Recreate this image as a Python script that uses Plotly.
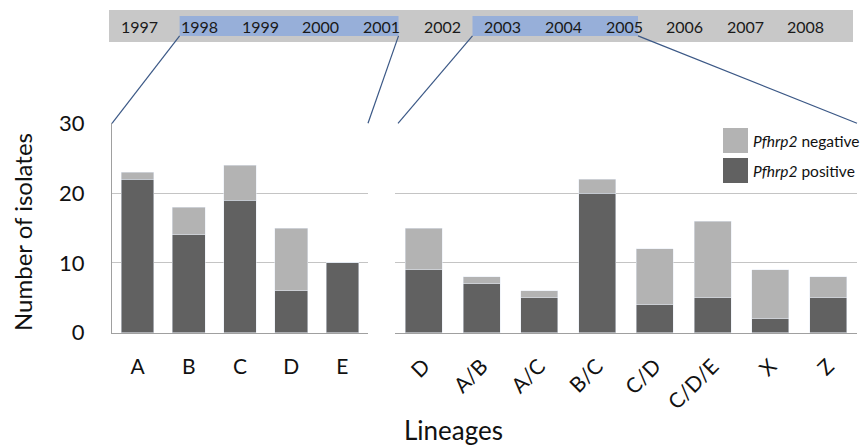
import plotly.graph_objects as go

# ---- data ----
left_lineages = ["A", "B", "C", "D", "E"]
left_positive = [22, 14, 19, 6, 10]
left_negative = [1, 4, 5, 9, 0]

right_lineages = ["D", "A/B", "A/C", "B/C", "C/D", "C/D/E", "X", "Z"]
right_positive = [9, 7, 5, 20, 4, 5, 2, 5]
right_negative = [6, 1, 1, 2, 8, 11, 7, 3]

years = [1997, 1998, 1999, 2000, 2001, 2002, 2003, 2004, 2005, 2006, 2007, 2008]
period1 = (1998, 2001)
period2 = (2003, 2005)

# ---- style ----
W, H = 864, 448
FONT = "Lato"
POS_C = "#616161"
NEG_C = "#b3b3b3"
GRID_C = "#c4c4c4"
LINE_C = "#3b5886"
period_pads = [(-0.33, 0.28), (-0.5, 0.23)]


def px(x):
    return x / W


def py(y):
    return 1 - y / H


fig = go.Figure()

fig.add_trace(go.Bar(x=left_lineages, y=left_positive, marker_color=POS_C,
                     name="Pfhrp2 positive", xaxis="x", yaxis="y"))
fig.add_trace(go.Bar(x=left_lineages, y=left_negative, marker_color=NEG_C,
                     name="Pfhrp2 negative", xaxis="x", yaxis="y"))
fig.add_trace(go.Bar(x=right_lineages, y=right_positive, marker_color=POS_C,
                     name="Pfhrp2 positive", xaxis="x2", yaxis="y2"))
fig.add_trace(go.Bar(x=right_lineages, y=right_negative, marker_color=NEG_C,
                     name="Pfhrp2 negative", xaxis="x2", yaxis="y2"))

ydom = [py(332.7), py(123.3)]
dom1 = [px(112), px(368)]
dom2 = [px(395), px(857)]
tl_x = [px(109), px(853)]
tl_y = [py(42), py(10)]
tl_range = [1996.505, 2008.776]
blue_y = (0.19, 0.81)

tickfont = dict(family=FONT, size=21, color="#111")

shapes = []
annotations = []

# timeline bar
shapes.append(dict(type="rect", xref="x3", yref="y3", x0=tl_range[0], x1=tl_range[1],
                   y0=0, y1=1, fillcolor="#c8c8c8", line=dict(width=0), layer="below"))
for (a, b), (pa, pb) in zip((period1, period2), period_pads):
    shapes.append(dict(type="rect", xref="x3", yref="y3", x0=a + pa, x1=b + pb,
                       y0=blue_y[0], y1=blue_y[1], fillcolor="#97afd9",
                       line=dict(width=0), layer="below"))
for yv in years:
    annotations.append(dict(x=yv, y=0.5, xref="x3", yref="y3", text=str(yv),
                            xanchor="center", yanchor="middle",
                            showarrow=False, font=dict(family=FONT, size=16, color="#1a1a1a")))

# connecting lines (timeline -> panels)
tl_scale = (tl_x[1] - tl_x[0]) / (tl_range[1] - tl_range[0])


def tl_px(v):
    return tl_x[0] + (v - tl_range[0]) * tl_scale


blue_bottom = tl_y[0] + (tl_y[1] - tl_y[0]) * blue_y[0]
conn = [
    (tl_px(period1[0] + period_pads[0][0]), dom1[0]),
    (tl_px(period1[1] + period_pads[0][1]), dom1[1]),
    (tl_px(period2[0] + period_pads[1][0]), dom2[0] + px(3)),
    (tl_px(period2[1] + period_pads[1][1]), dom2[1]),
]
for (x0, x1) in conn:
    shapes.append(dict(type="line", xref="paper", yref="paper", x0=x0, y0=blue_bottom,
                       x1=x1, y1=ydom[1], line=dict(color=LINE_C, width=1.2)))

# custom legend
leg = [("negative", NEG_C, 128), ("positive", POS_C, 158)]
for label, col, top in leg:
    shapes.append(dict(type="rect", xref="paper", yref="paper", x0=px(723), x1=px(748),
                       y0=py(top + 25), y1=py(top), fillcolor=col, line=dict(width=0)))
    annotations.append(dict(x=px(751), y=py(top + 12.5), xref="paper", yref="paper",
                            xanchor="left", yanchor="middle", showarrow=False,
                            text="<i>Pfhrp2</i> " + label,
                            font=dict(family=FONT, size=15.5, color="#111")))

annotations.append(dict(x=px(454), y=py(430), xref="paper", yref="paper", text="Lineages",
                        xanchor="center", yanchor="middle",
                        showarrow=False, font=dict(family=FONT, size=26, color="#111")))
annotations.append(dict(x=px(22), y=py(232), xref="paper", yref="paper",
                        xanchor="center", yanchor="middle",
                        text="Number of isolates", textangle=-90, showarrow=False,
                        font=dict(family=FONT, size=24, color="#111")))

fig.update_layout(
    width=W, height=H,
    margin=dict(l=0, r=0, t=0, b=0, autoexpand=False),
    paper_bgcolor="white", plot_bgcolor="white",
    barmode="stack", bargap=0.36,
    showlegend=False,
    font=dict(family=FONT),
    xaxis=dict(domain=dom1, anchor="y", showgrid=False, showline=True, linecolor="#a0a0a0",
               linewidth=1, tickfont=tickfont, ticks="", automargin=False,
               ticklabelstandoff=15),
    yaxis=dict(domain=ydom, range=[0, 30], tickvals=[0, 10, 20, 30], showgrid=True,
               gridcolor=GRID_C, zeroline=False, showline=True, linecolor="#a0a0a0",
               tickfont=dict(family=FONT, size=22, color="#111"), ticks="",
               ticklabelstandoff=22, automargin=False),
    xaxis2=dict(domain=dom2, anchor="y2", showgrid=False, showline=True, linecolor="#a0a0a0",
                tickfont=tickfont, tickangle=-45, ticks="", automargin=False,
                ticklabelstandoff=12),
    yaxis2=dict(domain=ydom, anchor="x2", range=[0, 30], tickvals=[0, 10, 20, 30],
                showgrid=True, gridcolor=GRID_C, zeroline=False, showline=False,
                showticklabels=False, automargin=False),
    xaxis3=dict(domain=tl_x, anchor="y3", range=tl_range, visible=False, automargin=False),
    yaxis3=dict(domain=tl_y, anchor="x3", range=[0, 1], visible=False, automargin=False),
    shapes=shapes,
    annotations=annotations,
)

fig.write_html("out.html", config={"displayModeBar": False},
               post_script="document.body.style.margin='0';")
